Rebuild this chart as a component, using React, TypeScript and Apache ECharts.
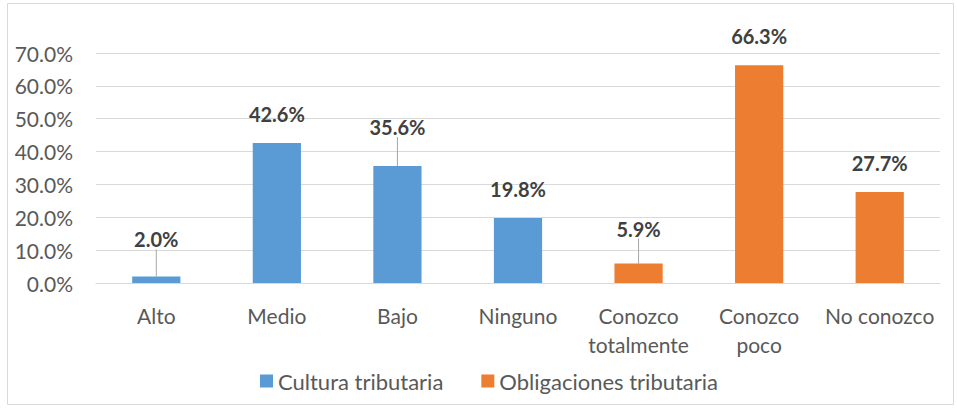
import React, { useEffect, useRef } from "react";
import * as echarts from "echarts";

const categories = ["Alto", "Medio", "Bajo", "Ninguno", "Conozco\ntotalmente", "Conozco\npoco", "No conozco"];
const culturaValues = [2.0, 42.6, 35.6, 19.8, null, null, null];
const obligacionesValues = [null, null, null, null, 5.9, 66.3, 27.7];
const yTicks = [0, 10, 20, 30, 40, 50, 60, 70];
const seriesNames = ["Cultura tributaria", "Obligaciones tributaria"];
// labels that Excel pulled up with a leader line: dataIndex -> extra lift in px
const liftedLabels: Record<number, number> = { 0: 8, 2: 10, 4: 6 };

const FONT = "Lato";

const toData = (vals: (number | null)[]) =>
  vals.map((v, i) =>
    liftedLabels[i] && v != null
      ? { value: v, labelLine: { show: true, lineStyle: { color: "#a6a6a6", width: 1 } } }
      : v
  );

export default function App() {
  const ref = useRef<HTMLDivElement>(null);
  useEffect(() => {
    if (!ref.current) return;
    const chart = echarts.init(ref.current, undefined, { renderer: "svg" });
    const labelCfg = {
      show: true,
      position: "top" as const,
      distance: 19,
      formatter: (p: any) => (p.value == null ? "" : Number(p.value).toFixed(1) + "%"),
      fontFamily: FONT,
      fontSize: 20,
      fontWeight: "bold" as const,
      color: "#404040",
    };
    const labelLayout = (p: any) => {
      const lift = liftedLabels[p.dataIndex];
      return lift ? { dy: -lift } : {};
    };
    chart.setOption({
      animation: false,
      backgroundColor: "#ffffff",
      graphic: [
        {
          type: "rect",
          shape: { x: 7.5, y: 3.5, width: 946, height: 401 },
          style: { fill: "none", stroke: "#d9d9d9", lineWidth: 1 },
          silent: true,
        },
      ],
      grid: { left: 96, right: 17, top: 53, bottom: 126, containLabel: false },
      legend: {
        left: 255,
        top: 365,
        itemWidth: 13,
        itemHeight: 13,
        itemGap: 38,
        icon: "rect",
        textStyle: { fontFamily: FONT, fontSize: 22, color: "#595959", padding: [0, 0, 0, 0] },
        data: seriesNames,
      },
      xAxis: {
        type: "category",
        data: categories,
        axisLine: { show: true, lineStyle: { color: "#d9d9d9", width: 1 } },
        axisTick: { show: false },
        axisLabel: {
          fontFamily: FONT,
          fontSize: 21,
          color: "#595959",
          margin: 18,
          lineHeight: 29,
          interval: 0,
        },
      },
      yAxis: {
        type: "value",
        min: 0,
        max: 70,
        interval: 10,
        axisLine: { show: false },
        axisTick: { show: false },
        splitLine: { lineStyle: { color: "#d9d9d9", width: 1 } },
        axisLabel: {
          fontFamily: FONT,
          fontSize: 21,
          color: "#595959",
          margin: 23,
          formatter: (v: number) => (yTicks.includes(v) ? v.toFixed(1) + "%" : ""),
        },
      },
      series: [
        {
          name: seriesNames[0],
          type: "bar",
          stack: "all",
          barWidth: "40%",
          data: toData(culturaValues),
          itemStyle: { color: "#5B9BD5" },
          label: labelCfg,
          labelLayout,
          labelLine: { show: false },
        },
        {
          name: seriesNames[1],
          type: "bar",
          stack: "all",
          barWidth: "40%",
          data: toData(obligacionesValues),
          itemStyle: { color: "#ED7D31" },
          label: labelCfg,
          labelLayout,
          labelLine: { show: false },
        },
      ],
    });
    return () => chart.dispose();
  }, []);
  return (
    <div
      ref={ref}
      style={{ position: "fixed", left: 0, top: 0, width: 957, height: 409, background: "#fff" }}
    />
  );
}
